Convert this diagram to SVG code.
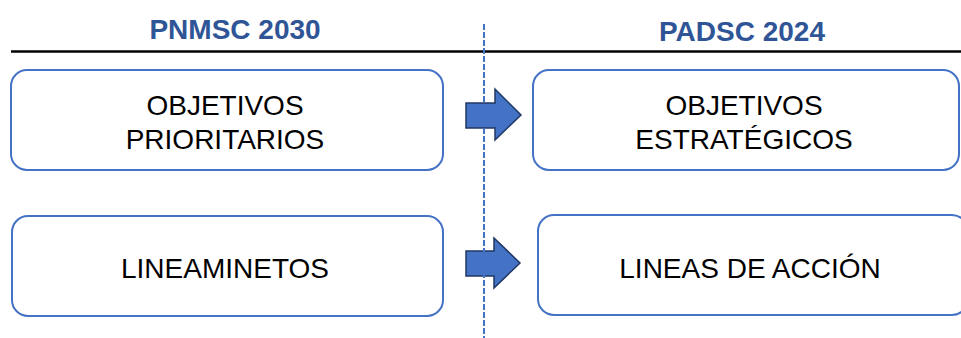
<svg xmlns="http://www.w3.org/2000/svg" width="961" height="338" viewBox="0 0 961 338">
<style>
.box{fill:#fff;stroke:#4472C4;stroke-width:2}
.lbl{font-family:"Liberation Sans",Arial,sans-serif;font-size:28px;fill:#000;text-anchor:middle}
.ttl{font-family:"Liberation Sans",Arial,sans-serif;font-size:28px;font-weight:bold;fill:#2F5597;text-anchor:middle}
.arr{fill:#4472C4;stroke:#1F3864;stroke-width:1.5;stroke-linejoin:miter}
</style>
<rect width="961" height="338" fill="#fff"/>
<g id="headers">
<text class="ttl" x="235" y="39">PNMSC 2030</text>
<text class="ttl" x="742" y="41">PADSC 2024</text>
<line x1="11" y1="51.5" x2="961" y2="51.5" stroke="#000" stroke-width="2.5"/>
</g>
<g id="node-obj-prio">
<rect class="box" x="11" y="70" width="432" height="100" rx="16"/>
<text class="lbl" x="225" y="115">OBJETIVOS</text>
<text class="lbl" x="225" y="149">PRIORITARIOS</text>
</g>
<g id="node-obj-estr">
<rect class="box" x="533" y="70" width="426" height="100" rx="16"/>
<text class="lbl" x="744" y="115">OBJETIVOS</text>
<text class="lbl" x="744" y="149">ESTRATÉGICOS</text>
</g>
<g id="node-lineamientos">
<rect class="box" x="12" y="216" width="431" height="100" rx="16"/>
<text class="lbl" x="225" y="278">LINEAMINETOS</text>
</g>
<g id="node-lineas">
<rect class="box" x="538" y="215" width="430" height="100" rx="16"/>
<text class="lbl" x="750" y="278">LINEAS DE ACCIÓN</text>
</g>
<g id="connectors">
<polygon class="arr" points="466,103 495,103 495,89 521,115 495,140 495,128 466,128"/>
<polygon class="arr" points="466,251 494,251 494,238 520,263 494,288 494,276 466,276"/>
<line x1="484" y1="24" x2="484" y2="338" stroke="#4472C4" stroke-width="2" stroke-dasharray="6,2"/>
</g>
</svg>
